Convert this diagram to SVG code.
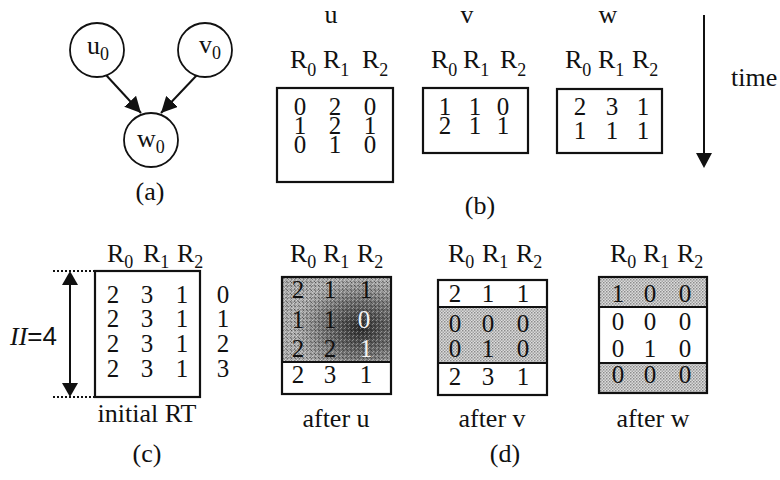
<svg xmlns="http://www.w3.org/2000/svg" width="780" height="480" viewBox="0 0 780 480">
<style>
text{font-family:"Liberation Serif","Times New Roman",serif;fill:#111}
.t{font-size:26px}
.h{font-size:26px}
.s{font-size:18px}
.d{font-size:25px;text-anchor:middle}
.c{text-anchor:middle}
.w{fill:#f4f4f4}
.box{fill:none;stroke:#111;stroke-width:2.2}
.ln{stroke:#111;stroke-width:2}
.node{fill:#fff;stroke:#111;stroke-width:1.8}
</style>
<defs>
<marker id="ah" viewBox="0 0 10 10" refX="10" refY="5" markerWidth="8" markerHeight="8" markerUnits="strokeWidth" orient="auto">
<path d="M0,0 L10,5 L0,10 z" fill="#111"/>
</marker>
<pattern id="ht" width="3" height="3" patternUnits="userSpaceOnUse">
<rect width="3" height="3" fill="#dcdcdc"/>
<rect width="1.5" height="1.5" fill="#8c8c8c"/>
<rect x="1.5" y="1.5" width="1.5" height="1.5" fill="#a4a4a4"/>
</pattern>
<pattern id="nz" width="4" height="4" patternUnits="userSpaceOnUse">
<rect width="1" height="1" fill="#fff"/>
<rect x="2" y="1" width="1" height="1" fill="#000"/>
<rect x="1" y="3" width="1" height="1" fill="#fff"/>
<rect x="3" y="2" width="1" height="1" fill="#000"/>
</pattern>
<radialGradient id="dk" cx="0.72" cy="0.6" r="0.6">
<stop offset="0" stop-color="#1a1a1a" stop-opacity="0.9"/>
<stop offset="0.55" stop-color="#333" stop-opacity="0.55"/>
<stop offset="1" stop-color="#555" stop-opacity="0.2"/>
</radialGradient>
</defs>

<!-- (a) graph -->
<g id="connectors">
<line class="ln" x1="106" y1="75" x2="141" y2="113" marker-end="url(#ah)"/>
<line class="ln" x1="197" y1="75" x2="161" y2="113" marker-end="url(#ah)"/>
</g>
<g id="u0">
<circle class="node" cx="97" cy="50" r="27"/>
<text class="t" x="87" y="54">u<tspan class="s" dy="6">0</tspan></text>
</g>
<g id="v0">
<circle class="node" cx="205" cy="50" r="27"/>
<text class="t" x="199" y="53">v<tspan class="s" dy="6">0</tspan></text>
</g>
<g id="w0">
<circle class="node" cx="151" cy="140" r="27"/>
<text class="t" x="137" y="147">w<tspan class="s" dy="6">0</tspan></text>
</g>
<text class="t c" x="150" y="200">(a)</text>

<!-- (b) -->
<g id="table-u">
<text class="t c" x="331" y="23">u</text>
<text class="h" y="68"><tspan x="290">R</tspan><tspan class="s" dy="8">0</tspan><tspan x="323" dy="-8">R</tspan><tspan class="s" dy="8">1</tspan><tspan x="362" dy="-8">R</tspan><tspan class="s" dy="8">2</tspan></text>
<rect class="box" x="277" y="88" width="116" height="94"/>
<text class="d" y="115"><tspan x="300">0</tspan><tspan x="335">2</tspan><tspan x="370">0</tspan></text>
<text class="d" y="134"><tspan x="300">1</tspan><tspan x="335">2</tspan><tspan x="370">1</tspan></text>
<text class="d" y="153"><tspan x="300">0</tspan><tspan x="335">1</tspan><tspan x="370">0</tspan></text>
</g>
<g id="table-v">
<text class="t c" x="467" y="23">v</text>
<text class="h" y="68"><tspan x="431">R</tspan><tspan class="s" dy="8">0</tspan><tspan x="463" dy="-8">R</tspan><tspan class="s" dy="8">1</tspan><tspan x="500" dy="-8">R</tspan><tspan class="s" dy="8">2</tspan></text>
<rect class="box" x="423" y="88" width="105" height="65"/>
<text class="d" y="115"><tspan x="445">1</tspan><tspan x="475">1</tspan><tspan x="503">0</tspan></text>
<text class="d" y="134"><tspan x="445">2</tspan><tspan x="475">1</tspan><tspan x="503">1</tspan></text>
</g>
<g id="table-w">
<text class="t c" x="608" y="23">w</text>
<text class="h" y="68"><tspan x="565">R</tspan><tspan class="s" dy="8">0</tspan><tspan x="598" dy="-8">R</tspan><tspan class="s" dy="8">1</tspan><tspan x="632" dy="-8">R</tspan><tspan class="s" dy="8">2</tspan></text>
<rect class="box" x="557" y="89" width="105" height="64"/>
<text class="d" y="115"><tspan x="580">2</tspan><tspan x="612">3</tspan><tspan x="643">1</tspan></text>
<text class="d" y="139"><tspan x="580">1</tspan><tspan x="612">1</tspan><tspan x="643">1</tspan></text>
</g>
<g id="time">
<line class="ln" x1="704" y1="15" x2="704" y2="155"/>
<path d="M696,153 L712,153 L704,168 z" fill="#111"/>
<text class="t" x="731" y="86">time</text>
</g>
<text class="t c" x="480" y="214">(b)</text>

<!-- (c) -->
<g id="initial-rt">
<text class="h" y="262"><tspan x="107">R</tspan><tspan class="s" dy="6">0</tspan><tspan x="143" dy="-6">R</tspan><tspan class="s" dy="6">1</tspan><tspan x="177" dy="-6">R</tspan><tspan class="s" dy="6">2</tspan></text>
<rect class="box" x="95" y="271" width="105" height="126"/>
<text class="d" y="303"><tspan x="113">2</tspan><tspan x="147">3</tspan><tspan x="182">1</tspan><tspan x="223">0</tspan></text>
<text class="d" y="327"><tspan x="113">2</tspan><tspan x="147">3</tspan><tspan x="182">1</tspan><tspan x="223">1</tspan></text>
<text class="d" y="352"><tspan x="113">2</tspan><tspan x="147">3</tspan><tspan x="182">1</tspan><tspan x="223">2</tspan></text>
<text class="d" y="377"><tspan x="113">2</tspan><tspan x="147">3</tspan><tspan x="182">1</tspan><tspan x="223">3</tspan></text>
<line x1="53" y1="271" x2="95" y2="271" stroke="#111" stroke-width="2" stroke-dasharray="2,2"/>
<line x1="53" y1="397" x2="95" y2="397" stroke="#111" stroke-width="2" stroke-dasharray="2,2"/>
<line class="ln" x1="70" y1="282" x2="70" y2="386"/>
<path d="M62,285 L78,285 L70,271 z" fill="#111"/>
<path d="M62,383 L78,383 L70,397 z" fill="#111"/>
<text class="t" x="10" y="345"><tspan font-style="italic">II</tspan><tspan font-family="'Liberation Sans',Arial,sans-serif">=4</tspan></text>
<text class="t c" x="147" y="422">initial RT</text>
</g>
<text class="t c" x="147" y="462">(c)</text>

<!-- (d) -->
<g id="after-u">
<text class="h" y="262"><tspan x="290">R</tspan><tspan class="s" dy="6">0</tspan><tspan x="323" dy="-6">R</tspan><tspan class="s" dy="6">1</tspan><tspan x="357" dy="-6">R</tspan><tspan class="s" dy="6">2</tspan></text>
<rect x="282" y="277" width="109" height="85" fill="url(#ht)"/>
<rect x="282" y="277" width="109" height="85" fill="url(#dk)"/>
<rect x="282" y="277" width="109" height="85" fill="url(#nz)" opacity="0.35"/>
<rect class="box" x="282" y="277" width="109" height="117"/>
<line class="ln" x1="282" y1="362" x2="391" y2="362"/>
<text class="d" y="298"><tspan x="298">2</tspan><tspan x="330">1</tspan><tspan x="366">1</tspan></text>
<text class="d" y="328"><tspan x="298">1</tspan><tspan x="330">1</tspan><tspan x="364" class="w">0</tspan></text>
<text class="d" y="357"><tspan x="298">2</tspan><tspan x="330">2</tspan><tspan x="366" class="w">1</tspan></text>
<text class="d" y="383"><tspan x="298">2</tspan><tspan x="330">3</tspan><tspan x="366">1</tspan></text>
<text class="t c" x="336" y="427">after u</text>
</g>
<g id="after-v">
<text class="h" y="262"><tspan x="448">R</tspan><tspan class="s" dy="6">0</tspan><tspan x="482" dy="-6">R</tspan><tspan class="s" dy="6">1</tspan><tspan x="516" dy="-6">R</tspan><tspan class="s" dy="6">2</tspan></text>
<rect x="438" y="307" width="109" height="56" fill="url(#ht)"/>
<rect class="box" x="438" y="280" width="109" height="115"/>
<line class="ln" x1="438" y1="307" x2="547" y2="307"/>
<line class="ln" x1="438" y1="363" x2="547" y2="363"/>
<text class="d" y="302"><tspan x="455">2</tspan><tspan x="488">1</tspan><tspan x="523">1</tspan></text>
<text class="d" y="332"><tspan x="455">0</tspan><tspan x="488">0</tspan><tspan x="523">0</tspan></text>
<text class="d" y="357"><tspan x="455">0</tspan><tspan x="488">1</tspan><tspan x="523">0</tspan></text>
<text class="d" y="385"><tspan x="455">2</tspan><tspan x="488">3</tspan><tspan x="523">1</tspan></text>
<text class="t c" x="492" y="427">after v</text>
</g>
<g id="after-w">
<text class="h" y="262"><tspan x="610">R</tspan><tspan class="s" dy="6">0</tspan><tspan x="643" dy="-6">R</tspan><tspan class="s" dy="6">1</tspan><tspan x="677" dy="-6">R</tspan><tspan class="s" dy="6">2</tspan></text>
<rect x="599" y="277" width="108" height="30" fill="url(#ht)"/>
<rect x="599" y="363" width="108" height="30" fill="url(#ht)"/>
<rect class="box" x="599" y="277" width="108" height="116"/>
<line class="ln" x1="599" y1="307" x2="707" y2="307"/>
<line class="ln" x1="599" y1="363" x2="707" y2="363"/>
<text class="d" y="302"><tspan x="618">1</tspan><tspan x="650">0</tspan><tspan x="685">0</tspan></text>
<text class="d" y="330"><tspan x="618">0</tspan><tspan x="650">0</tspan><tspan x="685">0</tspan></text>
<text class="d" y="357"><tspan x="618">0</tspan><tspan x="650">1</tspan><tspan x="685">0</tspan></text>
<text class="d" y="383"><tspan x="618">0</tspan><tspan x="650">0</tspan><tspan x="685">0</tspan></text>
<text class="t c" x="653" y="427">after w</text>
</g>
<text class="t c" x="505" y="462">(d)</text>
</svg>
